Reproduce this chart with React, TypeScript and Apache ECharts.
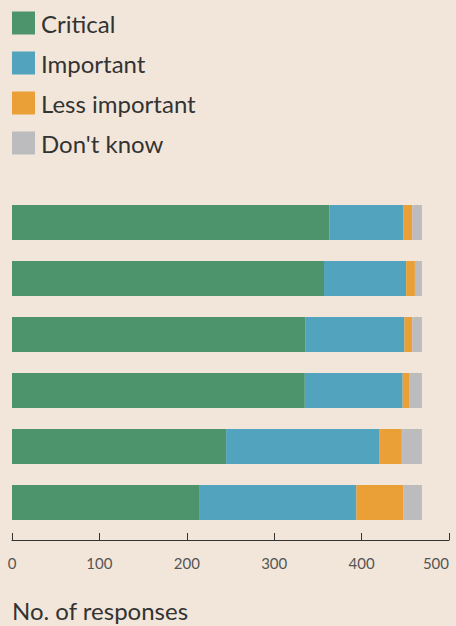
import React, { useEffect, useRef } from "react";
import * as echarts from "echarts";

const categories = ["Item 1", "Item 2", "Item 3", "Item 4", "Item 5", "Item 6"];
const seriesNames = ["Critical", "Important", "Less important", "Don't know"];
const critical = [363, 357, 336, 335, 245, 214];
const important = [85, 94, 113, 112, 175, 180];
const lessImportant = [10, 10, 9, 8, 26, 54];
const dontKnow = [11, 8, 11, 14, 23, 21];
const xTicks = [0, 100, 200, 300, 400, 500];
const colors = ["#4d946c", "#52a3bd", "#eaa037", "#bcbcbf"];

export default function App() {
  const ref = useRef<HTMLDivElement>(null);
  useEffect(() => {
    document.body.style.margin = "0";
    const chart = echarts.init(ref.current!, null, { renderer: "svg" });
    const values = [critical, important, lessImportant, dontKnow];
    chart.setOption({
      animation: false,
      backgroundColor: "#f2e6da",
      textStyle: { fontFamily: "Lato" },
      legend: {
        orient: "vertical",
        left: 12,
        top: 11,
        padding: 0,
        itemWidth: 23,
        itemHeight: 23,
        itemGap: 16,
        icon: "rect",
        data: seriesNames,
        textStyle: { fontSize: 24, color: "#333", fontFamily: "Lato", lineHeight: 19, padding: [4, 0, 0, 1] },
      },
      title: {
        text: "No. of responses",
        left: 12,
        top: 598,
        padding: 0,
        textStyle: { fontSize: 24, fontWeight: "normal", color: "#333", fontFamily: "Lato" },
      },
      grid: { left: 12, right: 7, top: 194.5, height: 336, containLabel: false },
      xAxis: {
        type: "value",
        min: xTicks[0],
        max: xTicks[xTicks.length - 1],
        interval: 100,
        offset: 9.5,
        axisLine: { show: true, lineStyle: { color: "#333", width: 1 } },
        axisTick: { show: true, inside: true, length: 7, lineStyle: { color: "#333" } },
        axisLabel: { fontSize: 15, color: "#555", margin: 15, alignMaxLabel: "right", fontFamily: "Lato" },
        splitLine: { show: false },
      },
      yAxis: {
        type: "category",
        data: categories,
        inverse: true,
        axisLine: { show: false },
        axisTick: { show: false },
        axisLabel: { show: false },
      },
      series: seriesNames.map((name, i) => ({
        name,
        type: "bar",
        stack: "total",
        data: values[i],
        barCategoryGap: "37.5%",
        itemStyle: { color: colors[i] },
      })),
    });
    return () => chart.dispose();
  }, []);
  return <div ref={ref} style={{ width: 456, height: 626 }} />;
}
